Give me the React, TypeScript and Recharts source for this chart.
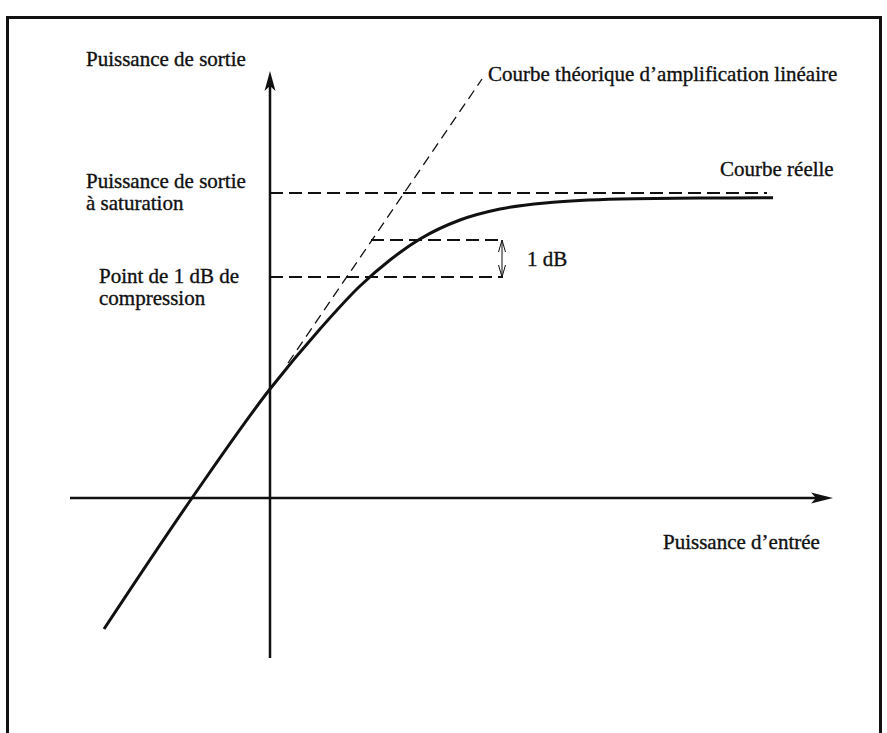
import React from 'react';
import { ComposedChart, Line, XAxis, YAxis, ReferenceLine, ReferenceDot } from 'recharts';

// ---- data (schematic units: input / output power, arbitrary dB) ----
const realInput = [-16.6, -7.8, 0, 5, 9, 12, 15, 19, 23, 28, 35, 43, 50.3];
const realOutput = [-13.1, 0, 10.9, 16.9, 21.2, 23.8, 25.9, 27.8, 28.9, 29.55, 29.9, 30.0, 30.02];

const linearInput = [1.8, 21.2];
const linearOutput = [13.5, 41.9];

const saturationOutput = 30.5;
const saturationEndInput = 49.7;
const compressionOutput = 22.1;
const compressionRefOutput = 25.8;
const linearInputAtRef = 10.1;
const markerInput = 23.3;

const xAxisSpan = [-20, 56.3];
const yAxisSpan = [-16, 42.7];

const labelTexts = [
  'Puissance de sortie',
  'Courbe théorique d’amplification linéaire',
  'Courbe réelle',
  'Puissance de sortie',
  'à saturation',
  '1 dB',
  'Point de 1 dB de',
  'compression',
  'Puissance d’entrée',
];
const labelX = [-18.4, 21.8, 45.0, -18.4, -18.4, 25.7, -17.1, -17.1, 39.3];
const labelY = [43.2, 41.7, 32.2, 31.0, 28.8, 23.2, 21.5, 19.3, -5.1];

const zip = (xs: number[], ys: number[]) => xs.map((x, i) => ({ x, y: ys[i] }));

const INK = '#111';
const FONT = "'Liberation Serif', 'Times New Roman', Times, serif";

const upArrow = (p: any) => (
  <polygon
    points={`${p.cx},${p.cy} ${p.cx - 5.5},${p.cy + 20} ${p.cx},${p.cy + 15} ${p.cx + 5.5},${p.cy + 20}`}
    fill={INK}
  />
);
const rightArrow = (p: any) => (
  <polygon
    points={`${p.cx},${p.cy} ${p.cx - 22},${p.cy - 5.5} ${p.cx - 17},${p.cy} ${p.cx - 22},${p.cy + 5.5}`}
    fill={INK}
  />
);
const openUp = (p: any) => (
  <polyline
    points={`${p.cx - 3.5},${p.cy + 12} ${p.cx},${p.cy} ${p.cx + 3.5},${p.cy + 12}`}
    fill="none"
    stroke={INK}
    strokeWidth={1}
  />
);
const openDown = (p: any) => (
  <polyline
    points={`${p.cx - 3.5},${p.cy - 12} ${p.cx},${p.cy} ${p.cx + 3.5},${p.cy - 12}`}
    fill="none"
    stroke={INK}
    strokeWidth={1}
  />
);
const textShape = (t: string) => (p: any) => (
  <text
    x={p.cx}
    y={p.cy}
    style={{ fontFamily: FONT, fontSize: 21 }}
    fill={INK}
    stroke={INK}
    strokeWidth={0.35}
  >
    {t}
  </text>
);

export default function App() {
  const dash = { stroke: INK, strokeWidth: 2, strokeDasharray: '13 6' };
  return (
    <div style={{ position: 'absolute', left: 0, top: 0, width: 887, height: 733, overflow: 'hidden', background: '#fff' }}>
      <div
        style={{
          position: 'absolute',
          left: 6,
          top: 16,
          width: 876,
          height: 740,
          border: `3px solid ${INK}`,
          boxSizing: 'border-box',
        }}
      />
      <div style={{ position: 'absolute', left: 0, top: 0 }}>
        <ComposedChart width={887} height={733} margin={{ top: 48, right: 17, bottom: 55, left: 70 }}>
          <XAxis type="number" dataKey="x" domain={[-20, 60]} allowDataOverflow hide />
          <YAxis type="number" dataKey="y" domain={[-18, 45]} allowDataOverflow hide />

          {/* axes */}
          <ReferenceLine
            segment={[{ x: 0, y: yAxisSpan[0] }, { x: 0, y: yAxisSpan[1] - 1.2 }]}
            stroke={INK}
            strokeWidth={2.5}
            ifOverflow="visible"
          />
          <ReferenceDot x={0} y={yAxisSpan[1]} shape={upArrow} ifOverflow="visible" />
          <ReferenceLine
            segment={[{ x: xAxisSpan[0], y: 0 }, { x: xAxisSpan[1] - 1.2, y: 0 }]}
            stroke={INK}
            strokeWidth={2.5}
            ifOverflow="visible"
          />
          <ReferenceDot x={xAxisSpan[1]} y={0} shape={rightArrow} ifOverflow="visible" />

          {/* saturation & 1 dB reference lines */}
          <ReferenceLine
            segment={[{ x: 0, y: saturationOutput }, { x: saturationEndInput, y: saturationOutput }]}
            {...dash}
            ifOverflow="visible"
          />
          <ReferenceLine
            segment={[{ x: 0, y: compressionOutput }, { x: markerInput, y: compressionOutput }]}
            {...dash}
            ifOverflow="visible"
          />
          <ReferenceLine
            segment={[{ x: linearInputAtRef, y: compressionRefOutput }, { x: markerInput, y: compressionRefOutput }]}
            {...dash}
            ifOverflow="visible"
          />
          <ReferenceLine
            segment={[{ x: markerInput - 0.1, y: compressionOutput }, { x: markerInput - 0.1, y: compressionRefOutput }]}
            stroke={INK}
            strokeWidth={1}
            ifOverflow="visible"
          />
          <ReferenceDot x={markerInput - 0.1} y={compressionRefOutput} shape={openUp} ifOverflow="visible" />
          <ReferenceDot x={markerInput - 0.1} y={compressionOutput} shape={openDown} ifOverflow="visible" />

          {/* theoretical linear amplification */}
          <Line
            data={zip(linearInput, linearOutput)}
            dataKey="y"
            type="linear"
            stroke={INK}
            strokeWidth={1.3}
            strokeDasharray="10 6"
            dot={false}
            activeDot={false}
            isAnimationActive={false}
          />
          {/* real curve */}
          <Line
            data={zip(realInput, realOutput)}
            dataKey="y"
            type="monotone"
            stroke={INK}
            strokeWidth={3}
            dot={false}
            activeDot={false}
            isAnimationActive={false}
          />

          {labelTexts.map((t, i) => (
            <ReferenceDot key={i} x={labelX[i]} y={labelY[i]} shape={textShape(t)} ifOverflow="visible" />
          ))}
        </ComposedChart>
      </div>
    </div>
  );
}
